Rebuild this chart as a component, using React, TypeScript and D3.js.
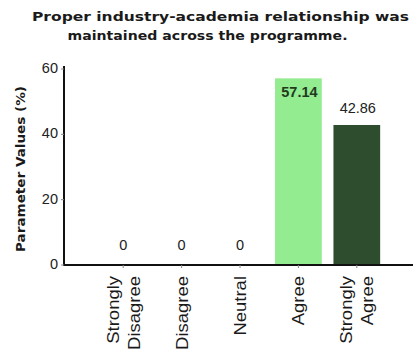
import React from "react";
import * as d3 from "d3";

const categories = ["Strongly Disagree", "Disagree", "Neutral", "Agree", "Strongly Agree"];
const labelLines = [["Strongly", "Disagree"], ["Disagree"], ["Neutral"], ["Agree"], ["Strongly", "Agree"]];
const values = [0, 0, 0, 57.14, 42.86];
const valueLabels = ["0", "0", "0", "57.14", "42.86"];
const barColors = ["#ffffff", "#ffffff", "#ffffff", "#93ec8f", "#2e4d2e"];
const yTicks = [0, 20, 40, 60];
const titleLines = ["Proper industry-academia relationship was", "maintained across the programme."];
const yAxisTitle = "Parameter Values (%)";

export default function App() {
  const W = 414, H = 350;
  const x0 = 64, y0 = 265;
  const x = d3.scaleBand<string>().domain(categories).range([94, 386]).paddingInner(0.2).paddingOuter(0.1);
  const y = d3.scaleLinear().domain([0, 60]).range([y0, 69]);
  const font = "'Liberation Sans', Arial, sans-serif";
  const titleFont = "'DejaVu Sans', Verdana, sans-serif";
  const titleGeom = [{ cx: 220.5, y: 21, len: 377 }, { cx: 207.5, y: 40, len: 280 }];
  return (
    <svg width={W} height={H} style={{ position: "absolute", left: 0, top: 0, background: "#fff" }} fontFamily={font}>
      {titleLines.map((t, i) => (
        <text key={i} x={titleGeom[i].cx} y={titleGeom[i].y} textAnchor="middle" fontWeight="bold" fontSize={13}
          fontFamily={titleFont} fill="#1a1a1a" textLength={titleGeom[i].len} lengthAdjust="spacingAndGlyphs">{t}</text>
      ))}
      <text transform={`translate(25,${169}) rotate(-90)`} textAnchor="middle" fontWeight="bold" fontSize={12}
        fontFamily={titleFont} fill="#1a1a1a" textLength={166} lengthAdjust="spacingAndGlyphs">{yAxisTitle}</text>
      {values.map((v, i) => {
        const c = categories[i];
        const bx = x(c)!;
        const bw = x.bandwidth();
        return v > 0 ? (
          <rect key={c} x={bx} y={y(v)} width={bw} height={y0 - y(v)} fill={barColors[i]} />
        ) : null;
      })}
      {values.map((v, i) => {
        const c = categories[i];
        const cx = x(c)! + x.bandwidth() / 2;
        const inside = i === 3;
        return (
          <text key={c} x={cx + (v > 0 ? 1 : 0)} y={inside ? y(v) + 19 : v > 0 ? y(v) - 12 : y0 - 15}
            textAnchor="middle" fontSize={14.5} fontWeight={inside ? "bold" : "normal"} fill={inside ? "#1f3a1f" : "#222"}>{valueLabels[i]}</text>
        );
      })}
      <line x1={x0} x2={x0} y1={66} y2={y0 + 1} stroke="#111" strokeWidth={2} />
      <line x1={x0 - 1} x2={413} y1={y0} y2={y0} stroke="#111" strokeWidth={2} />
      {yTicks.map(t => (
        <g key={t}>
          <line x1={x0 - 3} x2={x0} y1={y(t)} y2={y(t)} stroke="#888" strokeWidth={1} />
          <text x={x0 - 6} y={y(t) - 1} dy="0.35em" textAnchor="end" fontSize={14.5} fill="#222">{t}</text>
        </g>
      ))}
      {categories.map((c, i) => {
        const cx = x(c)! + x.bandwidth() / 2;
        const lines = labelLines[i];
        const n = lines.length;
        return (
          <g key={c}>
            <line x1={cx} x2={cx} y1={y0} y2={y0 + 3} stroke="#888" strokeWidth={1} />
            {lines.map((l, j) => (
              <text key={j} transform={`translate(${cx + (j - (n - 1) / 2) * 21 + 6},${y0 + 11}) rotate(-90) scale(1.12,1)`}
                textAnchor="end" fontSize={16.5} fill="#1a1a1a">{l}</text>
            ))}
          </g>
        );
      })}
    </svg>
  );
}
